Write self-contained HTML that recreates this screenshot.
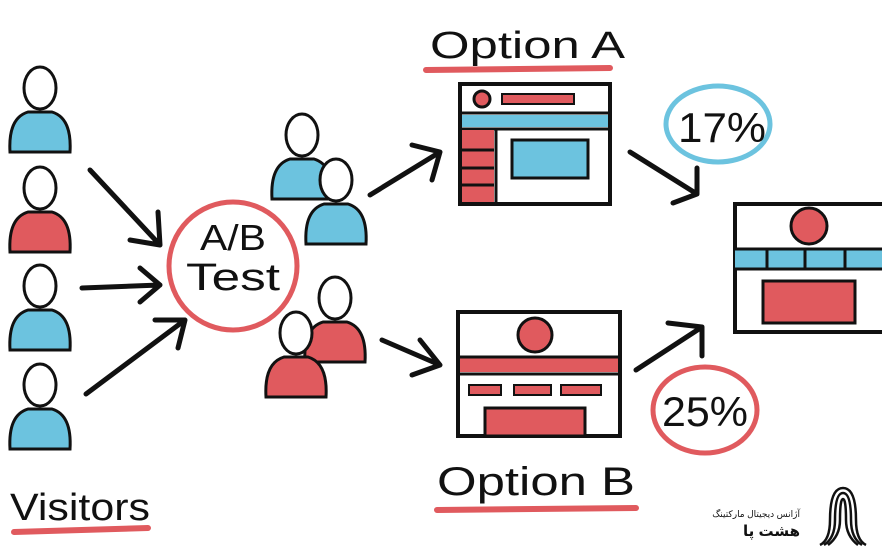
<!DOCTYPE html>
<html><head><meta charset="utf-8"><style>
html,body{margin:0;padding:0;background:#fff;width:882px;height:552px;overflow:hidden}
text{font-family:"Liberation Sans","DejaVu Sans",sans-serif}
</style></head><body>
<svg width="882" height="552" viewBox="0 0 882 552" xmlns="http://www.w3.org/2000/svg">
<defs>
<g id="pb">
<path d="M-30,64 Q-32,30 -12,24 L12,24 Q32,30 30,64 Z" fill="#6cc3df" stroke="#111" stroke-width="3"/>
<ellipse cx="0" cy="0" rx="16" ry="21" fill="#fff" stroke="#111" stroke-width="3"/>
</g>
<g id="pr">
<path d="M-30,64 Q-32,30 -12,24 L12,24 Q32,30 30,64 Z" fill="#e05a5e" stroke="#111" stroke-width="3"/>
<ellipse cx="0" cy="0" rx="16" ry="21" fill="#fff" stroke="#111" stroke-width="3"/>
</g>
</defs>
<g stroke="#111" stroke-width="5" fill="none" stroke-linecap="round" stroke-linejoin="round">
<path d="M90,170 L160,245 M130,240 L160,245 L158,212"/>
<path d="M82,288 L160,285 M140,268 L160,285 L140,302"/>
<path d="M86,394 L185,320 M155,320 L185,320 L178,348"/>
<path d="M370,195 L440,152 M412,145 L440,152 L432,180"/>
<path d="M382,340 L440,365 M420,340 L440,365 L412,375"/>
<path d="M630,152 L697,194 M697,168 L697,194 L673,203"/>
<path d="M636,370 L702,327 M668,323 L702,327 L702,356"/>
</g>
<use href="#pb" x="40" y="88"/>
<use href="#pr" x="40" y="188"/>
<use href="#pb" x="40" y="286"/>
<use href="#pb" x="40" y="385"/>
<use href="#pb" x="302" y="135"/>
<use href="#pb" x="336" y="180"/>
<use href="#pr" x="335" y="298"/>
<use href="#pr" x="296" y="333"/>
<circle cx="233" cy="266" r="64" fill="none" stroke="#e05a5e" stroke-width="5"/>
<text x="200" y="250" font-size="36" textLength="66" lengthAdjust="spacingAndGlyphs" fill="#111">A/B</text>
<text x="186" y="290" font-size="38" textLength="94" lengthAdjust="spacingAndGlyphs" fill="#111">Test</text>
<text x="430" y="58" font-size="38" textLength="195" lengthAdjust="spacingAndGlyphs" fill="#111">Option A</text>
<path d="M426,70 L610,68" stroke="#e05a5e" stroke-width="6" stroke-linecap="round"/>
<rect x="460" y="84" width="150" height="120" fill="none" stroke="#111" stroke-width="4"/>
<circle cx="482" cy="99" r="8" fill="#e05a5e" stroke="#111" stroke-width="3"/>
<rect x="502" y="94" width="72" height="10" fill="#e05a5e" stroke="#111" stroke-width="2"/>
<rect x="462" y="115" width="146" height="12" fill="#6cc3df"/>
<path d="M462,113 L608,113 M462,129 L608,129" stroke="#111" stroke-width="3"/>
<rect x="462" y="130" width="32" height="72" fill="#e05a5e"/>
<path d="M496,130 L496,202 M462,150 L494,150 M462,168 L494,168 M462,185 L494,185" stroke="#111" stroke-width="3"/>
<rect x="512" y="140" width="76" height="38" fill="#6cc3df" stroke="#111" stroke-width="3"/>
<ellipse cx="718" cy="124" rx="52" ry="38" fill="none" stroke="#6cc3df" stroke-width="5"/>
<text x="678" y="142" font-size="42" textLength="88" lengthAdjust="spacingAndGlyphs" fill="#111">17%</text>
<rect x="735" y="204" width="150" height="128" fill="none" stroke="#111" stroke-width="4"/>
<circle cx="809" cy="226" r="18" fill="#e05a5e" stroke="#111" stroke-width="3"/>
<rect x="735" y="250" width="150" height="18" fill="#6cc3df"/>
<path d="M735,249 L882,249 M735,269 L882,269 M767,250 L767,268 M805,250 L805,268 M845,250 L845,268" stroke="#111" stroke-width="3"/>
<rect x="763" y="281" width="92" height="42" fill="#e05a5e" stroke="#111" stroke-width="3"/>
<rect x="458" y="312" width="162" height="124" fill="none" stroke="#111" stroke-width="4"/>
<circle cx="535" cy="335" r="17" fill="#e05a5e" stroke="#111" stroke-width="3"/>
<rect x="460" y="358" width="158" height="14" fill="#e05a5e"/>
<path d="M460,357 L618,357 M460,374 L618,374" stroke="#111" stroke-width="3"/>
<rect x="469" y="385" width="32" height="10" fill="#e05a5e" stroke="#111" stroke-width="2"/>
<rect x="514" y="385" width="37" height="10" fill="#e05a5e" stroke="#111" stroke-width="2"/>
<rect x="561" y="385" width="40" height="10" fill="#e05a5e" stroke="#111" stroke-width="2"/>
<rect x="485" y="408" width="100" height="28" fill="#e05a5e" stroke="#111" stroke-width="3"/>
<ellipse cx="705" cy="410" rx="52" ry="43" fill="none" stroke="#e05a5e" stroke-width="5"/>
<text x="662" y="426" font-size="42" textLength="86" lengthAdjust="spacingAndGlyphs" fill="#111">25%</text>
<text x="437" y="495" font-size="40" textLength="198" lengthAdjust="spacingAndGlyphs" fill="#111">Option B</text>
<path d="M437,510 L636,508" stroke="#e05a5e" stroke-width="6" stroke-linecap="round"/>
<text x="10" y="520" font-size="38" textLength="140" lengthAdjust="spacingAndGlyphs" fill="#111">Visitors</text>
<path d="M14,532 L148,528" stroke="#e05a5e" stroke-width="6" stroke-linecap="round"/>
<text x="800" y="517" font-size="9" text-anchor="end" fill="#111" font-family="DejaVu Sans,sans-serif">آژانس دیجیتال مارکتینگ</text>
<text x="800" y="536" font-size="15" font-weight="bold" text-anchor="end" fill="#111" font-family="DejaVu Sans,sans-serif">هشت پا</text>
<g fill="none" stroke="#111" stroke-width="2.5">
<path d="M820,545 Q830,540 830,520 Q830,488 843,488 Q856,488 856,520 Q856,540 866,545"/>
<path d="M824,545 Q835,538 835,520 Q835,493 843,493 Q851,493 851,520 Q851,538 862,545"/>
<path d="M828,545 Q840,536 840,520 Q840,499 843,499 Q846,499 846,520 Q846,536 858,545"/>
</g>
</svg>
</body></html>
